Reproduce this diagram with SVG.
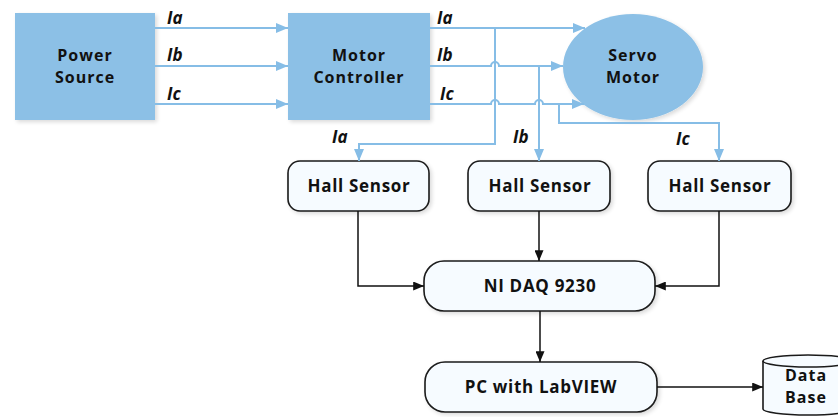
<svg xmlns="http://www.w3.org/2000/svg" width="838" height="417" viewBox="0 0 838 417">
<defs>
<marker id="ab" viewBox="0 0 12 10" refX="12" refY="5" markerWidth="12" markerHeight="10" markerUnits="userSpaceOnUse" orient="auto">
<path d="M0,0 L12,5 L0,10 Z" fill="#86bde6"/>
</marker>
<marker id="ak" viewBox="0 0 12 10" refX="12" refY="5" markerWidth="11" markerHeight="9" markerUnits="userSpaceOnUse" orient="auto">
<path d="M0,0 L12,5 L0,10 Z" fill="#111"/>
</marker>
<filter id="sh" x="-10%" y="-10%" width="125%" height="130%">
<feGaussianBlur in="SourceAlpha" stdDeviation="2"/>
<feOffset dx="2" dy="2"/>
<feComponentTransfer><feFuncA type="linear" slope="0.15"/></feComponentTransfer>
<feMerge><feMergeNode/><feMergeNode in="SourceGraphic"/></feMerge>
</filter>
</defs>
<style>
.blue{fill:#8cc0e6;filter:url(#sh)}
.rbox{fill:#f6fbff;stroke:#1a1a1a;stroke-width:1.6;filter:url(#sh)}
.t{font-family:"Open Sans","Liberation Sans",sans-serif;font-weight:700;font-size:17px;letter-spacing:0.7px;fill:#111;text-anchor:middle}
.t2{font-family:"Open Sans","Liberation Sans",sans-serif;font-weight:700;font-size:16px;letter-spacing:1px;fill:#111;text-anchor:middle}
.lab{font-family:"Open Sans","Liberation Sans",sans-serif;font-weight:700;font-style:italic;font-size:17px;fill:#111}
.bl{fill:none;stroke:#86bde6;stroke-width:2}
.kl{fill:none;stroke:#111;stroke-width:1.5}
</style>
<rect width="838" height="417" fill="#fff"/>
<g id="power-source">
<rect class="blue" x="15" y="13" width="140" height="107"/>
<text class="t2" x="85" y="61">Power</text>
<text class="t2" x="85" y="83">Source</text>
</g>
<g id="motor-controller">
<rect class="blue" x="288" y="13" width="142" height="107"/>
<text class="t2" x="359" y="61">Motor</text>
<text class="t2" x="359" y="83">Controller</text>
</g>
<g id="servo-motor">
<ellipse class="blue" cx="633" cy="67" rx="70" ry="53"/>
<text class="t2" x="633" y="61">Servo</text>
<text class="t2" x="633" y="83">Motor</text>
</g>
<g id="hall-sensor-a">
<rect class="rbox" x="288" y="161" width="141" height="50" rx="12"/>
<text class="t" x="359" y="192">Hall Sensor</text>
</g>
<g id="hall-sensor-b">
<rect class="rbox" x="468" y="161" width="142" height="50" rx="12"/>
<text class="t" x="540" y="192">Hall Sensor</text>
</g>
<g id="hall-sensor-c">
<rect class="rbox" x="648" y="161" width="143" height="50" rx="12"/>
<text class="t" x="720" y="192">Hall Sensor</text>
</g>
<g id="ni-daq">
<rect class="rbox" x="424" y="261" width="231" height="50" rx="20"/>
<text class="t" x="540" y="292">NI DAQ 9230</text>
</g>
<g id="pc-labview">
<rect class="rbox" x="425" y="362" width="232" height="50" rx="20"/>
<text class="t" x="541" y="393">PC with LabVIEW</text>
</g>
<g id="database">
<path d="M763,361 V409 A45,6 0 0 0 853,409 V361" fill="#f6fbff" stroke="#1a1a1a" stroke-width="1.6"/>
<ellipse cx="808" cy="361" rx="45" ry="6" fill="#f6fbff" stroke="#1a1a1a" stroke-width="1.6"/>
<text class="t2" x="806" y="381">Data</text>
<text class="t2" x="806" y="403">Base</text>
</g>
<g id="connectors">
<path class="bl" d="M155,28 H288" marker-end="url(#ab)"/>
<path class="bl" d="M155,66 H288" marker-end="url(#ab)"/>
<path class="bl" d="M155,104 H288" marker-end="url(#ab)"/>
<path class="bl" d="M430,28 H585" marker-end="url(#ab)"/>
<path class="bl" d="M430,66 H491 A4,4 0 0 1 499,66 H563" marker-end="url(#ab)"/>
<path class="bl" d="M430,104 H491 A4,4 0 0 1 499,104 H535 A4,4 0 0 1 543,104 H584" marker-end="url(#ab)"/>
<path class="bl" d="M495,28 V144 H359 V161" marker-end="url(#ab)"/>
<path class="bl" d="M539,66 V161" marker-end="url(#ab)"/>
<path class="bl" d="M559,104 V123 H719 V161" marker-end="url(#ab)"/>
<path class="kl" d="M358,211 V286 H424" marker-end="url(#ak)"/>
<path class="kl" d="M539,211 V261" marker-end="url(#ak)"/>
<path class="kl" d="M719,211 V286 H655" marker-end="url(#ak)"/>
<path class="kl" d="M540,311 V362" marker-end="url(#ak)"/>
<path class="kl" d="M657,387 H763" marker-end="url(#ak)"/>
<text class="lab" x="167" y="24">Ia</text>
<text class="lab" x="167" y="61">Ib</text>
<text class="lab" x="167" y="100">Ic</text>
<text class="lab" x="437" y="24">Ia</text>
<text class="lab" x="437" y="61">Ib</text>
<text class="lab" x="440" y="100">Ic</text>
<text class="lab" x="332" y="143">Ia</text>
<text class="lab" x="513" y="143">Ib</text>
<text class="lab" x="676" y="145">Ic</text>
</g>
</svg>
